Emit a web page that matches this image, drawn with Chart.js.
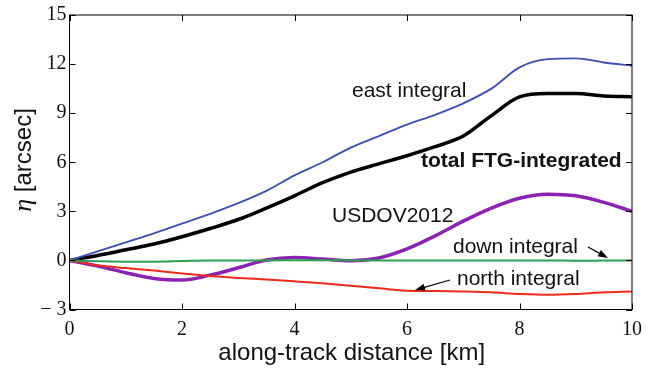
<!DOCTYPE html>
<html>
<head>
<meta charset="utf-8">
<script src="https://cdn.jsdelivr.net/npm/chart.js@4"></script>
<style>
  body { margin: 0; background: #fff; }
  canvas { display: block; }
</style>
</head>
<body>
<canvas id="etaChart" width="657" height="372"></canvas>
<script>
// along-track distance [km]
var distanceKm = [0, 0.5, 1, 1.5, 2, 2.5, 3, 3.5, 4, 4.5, 5, 5.5, 6, 6.5, 7, 7.5, 8, 8.5, 9, 9.5, 10];

// eta [arcsec]
var eastIntegral  = [0, 0.55, 1.1, 1.65, 2.25, 2.85, 3.5, 4.25, 5.2, 6.0, 6.9, 7.6, 8.3, 8.9, 9.6, 10.5, 11.8, 12.3, 12.35, 12.1, 11.9];
var totalFtg      = [0, 0.3, 0.65, 1.0, 1.45, 1.95, 2.5, 3.2, 3.95, 4.75, 5.4, 5.9, 6.4, 6.95, 7.6, 8.85, 10.0, 10.2, 10.2, 10.05, 10.0];
var usdov2012     = [0, -0.35, -0.75, -1.1, -1.2, -0.9, -0.45, 0.02, 0.18, 0.08, -0.02, 0.15, 0.7, 1.5, 2.4, 3.2, 3.8, 4.05, 3.95, 3.55, 3.0];
var downIntegral  = [0, -0.05, -0.08, -0.08, -0.04, 0, 0, 0, 0.01, 0.01, 0, 0, 0, 0, 0, 0, 0, 0, -0.02, -0.01, 0];
var northIntegral = [0, -0.3, -0.47, -0.62, -0.8, -0.95, -1.07, -1.17, -1.28, -1.4, -1.55, -1.7, -1.85, -1.87, -1.9, -1.95, -2.05, -2.1, -2.05, -1.95, -1.9];

var xTicks = [0, 2, 4, 6, 8, 10];
var yTicks = [-3, 0, 3, 6, 9, 12, 15];

function pts(values) {
    return distanceKm.map(function (d, i) { return { x: d, y: values[i] }; });
}

function series(values, color, width) {
    return {
        data: pts(values),
        borderColor: color,
        borderWidth: width,
        pointRadius: 0,
        fill: false,
        cubicInterpolationMode: 'monotone'
    };
}

function arrow(ctx, x1, y1, x2, y2) {
    var a = Math.atan2(y2 - y1, x2 - x1);
    ctx.beginPath();
    ctx.moveTo(x1, y1);
    ctx.lineTo(x2 - 6 * Math.cos(a), y2 - 6 * Math.sin(a));
    ctx.stroke();
    ctx.beginPath();
    ctx.moveTo(x2, y2);
    ctx.lineTo(x2 - 10 * Math.cos(a) + 3.5 * Math.sin(a), y2 - 10 * Math.sin(a) - 3.5 * Math.cos(a));
    ctx.lineTo(x2 - 10 * Math.cos(a) - 3.5 * Math.sin(a), y2 - 10 * Math.sin(a) + 3.5 * Math.cos(a));
    ctx.closePath();
    ctx.fill();
}

var decorations = {
    id: 'decorations',
    afterDraw: function (chart) {
        var ctx = chart.ctx;
        var area = chart.chartArea;
        var xs = chart.scales.x, ys = chart.scales.y;
        ctx.save();

        // frame
        ctx.strokeStyle = '#000';
        ctx.lineWidth = 1;
        ctx.strokeRect(area.left, area.top, area.right - area.left, area.bottom - area.top);

        // inward ticks on all four sides
        ctx.beginPath();
        xTicks.forEach(function (v) {
            var px = Math.round(xs.getPixelForValue(v)) + 0.5;
            ctx.moveTo(px, area.bottom); ctx.lineTo(px, area.bottom - 6);
            ctx.moveTo(px, area.top); ctx.lineTo(px, area.top + 6);
        });
        yTicks.forEach(function (v) {
            var py = Math.round(ys.getPixelForValue(v)) + 0.5;
            ctx.moveTo(area.left, py); ctx.lineTo(area.left + 6, py);
            ctx.moveTo(area.right, py); ctx.lineTo(area.right - 6, py);
        });
        ctx.stroke();

        // curve labels
        ctx.fillStyle = '#111';
        ctx.textBaseline = 'alphabetic';
        ctx.textAlign = 'left';
        ctx.font = '21px "Liberation Sans", Arial, sans-serif';
        ctx.fillText('east integral', 352, 97);
        ctx.fillText('USDOV2012', 332, 222);
        ctx.fillText('down integral', 453, 253);
        ctx.fillText('north integral', 457, 285);
        ctx.font = 'bold 21px "Liberation Sans", Arial, sans-serif';
        ctx.fillText('total FTG-integrated', 421, 167);

        // pointer arrows
        ctx.strokeStyle = '#000';
        ctx.fillStyle = '#000';
        ctx.lineWidth = 1.2;
        arrow(ctx, 588, 247, 608, 258);
        arrow(ctx, 450, 280, 415, 290);

        // axis titles
        ctx.fillStyle = '#111';
        ctx.textAlign = 'center';
        ctx.font = '24px "Liberation Sans", Arial, sans-serif';
        ctx.fillText('along-track distance [km]', (area.left + area.right) / 2 + 1, 360);

        ctx.translate(31, 160);
        ctx.rotate(-Math.PI / 2);
        var etaFont = 'italic 26px "Liberation Serif", "Times New Roman", serif';
        var restFont = '24px "Liberation Sans", Arial, sans-serif';
        ctx.font = etaFont;
        var w1 = ctx.measureText('\u03b7').width;
        ctx.font = restFont;
        var rest = ' [arcsec]';
        var w2 = ctx.measureText(rest).width;
        var start = -(w1 + w2) / 2;
        ctx.textAlign = 'left';
        ctx.font = etaFont;
        ctx.fillText('\u03b7', start, 0);
        ctx.font = restFont;
        ctx.fillText(rest, start + w1, 0);

        ctx.restore();
    }
};

new Chart(document.getElementById('etaChart').getContext('2d'), {
    type: 'line',
    data: {
        datasets: [
            series(downIntegral, '#2e9e55', 2),
            series(northIntegral, '#ee2b18', 2),
            series(eastIntegral, '#3f4fb6', 1.9),
            series(usdov2012, '#8b22b3', 3.5),
            series(totalFtg, '#000000', 3.5)
        ]
    },
    options: {
        responsive: false,
        devicePixelRatio: 1,
        animation: false,
        layout: { padding: { left: 0, top: 12, right: 25, bottom: 0 } },
        plugins: { legend: { display: false }, tooltip: { enabled: false } },
        scales: {
            x: {
                type: 'linear',
                min: 0,
                max: 10,
                afterFit: function (scale) { scale.height = 62.5; },
                afterBuildTicks: function (scale) { scale.ticks = xTicks.map(function (v) { return { value: v }; }); },
                grid: { display: false, drawTicks: false },
                border: { display: false },
                ticks: {
                    padding: 8,
                    color: '#111',
                    maxRotation: 0,
                    font: { family: '"Liberation Serif", "Times New Roman", serif', size: 20 }
                }
            },
            y: {
                min: -3,
                max: 15,
                afterFit: function (scale) { scale.width = 69.5; },
                afterBuildTicks: function (scale) { scale.ticks = yTicks.map(function (v) { return { value: v }; }); },
                grid: { display: false, drawTicks: false },
                border: { display: false },
                ticks: {
                    padding: 3,
                    color: '#111',
                    font: { family: '"Liberation Serif", "Times New Roman", serif', size: 20 },
                    callback: function (v) { return v < 0 ? '\u2212 ' + Math.abs(v) : String(v); }
                }
            }
        }
    },
    plugins: [decorations]
});
</script>
</body>
</html>
